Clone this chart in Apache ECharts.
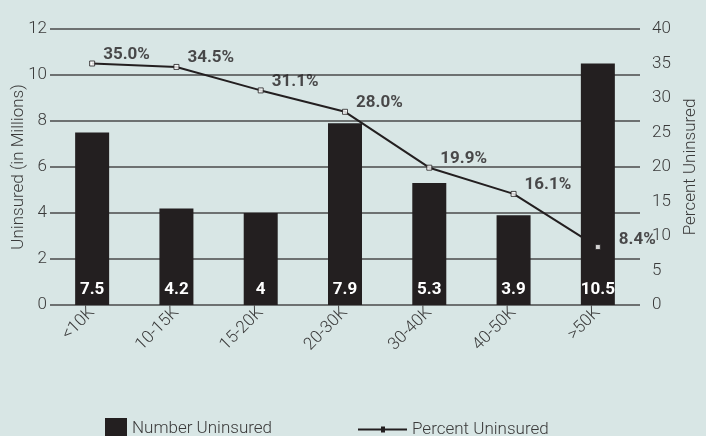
<!DOCTYPE html>
<html><head><meta charset="utf-8">
<script src="https://cdn.jsdelivr.net/npm/echarts@6/dist/echarts.min.js"></script>
<style>html,body{margin:0;padding:0;background:#d8e6e5}#c{width:706px;height:436px}</style>
</head><body><div id="c"></div>
<script>
const categories = ['<10K','10-15K','15-20K','20-30K','30-40K','40-50K','>50K'];
const numberUninsured = [7.5, 4.2, 4, 7.9, 5.3, 3.9, 10.5];
const percentUninsured = [35.0, 34.5, 31.1, 28.0, 19.9, 16.1, 8.4];
const leftTicks = [0, 12, 2];
const rightTicks = [0, 40, 5];

const chart = echarts.init(document.getElementById('c'));
const txt = '#3a3a3a';
const lightFont = {fontFamily: 'Roboto', fontWeight: 300, color: txt};
const boldFont = 'Roboto';
const dark = '#231f20';
const markerData = percentUninsured.map((v, i) => i === percentUninsured.length - 1
  ? {value: v, label: {offset: [10, -7]}} : v);
chart.setOption({
  backgroundColor: '#d8e6e5',
  animation: false,
  grid: {left: 50, right: 66, top: 29, bottom: 131, outerBoundsMode: 'none', containLabel: false},
  legend: [
    {data: [{name: 'Number Uninsured', icon: 'rect'}], left: 100, top: 413, itemWidth: 22, itemHeight: 22, itemGap: 8,
     textStyle: Object.assign({fontSize: 17}, lightFont)},
    {data: [{name: 'Percent Uninsured', icon: 'path://M0,4L49,4L49,6L0,6Z M23,2L27,2L27,8L23,8Z'}],
     left: 353, top: 416, itemWidth: 49, itemHeight: 6, itemGap: 10,
     itemStyle: {color: dark},
     textStyle: Object.assign({fontSize: 17, padding: [0, 0, 10, 0]}, lightFont)}
  ],
  xAxis: {
    type: 'category', data: categories,
    axisLine: {show: false}, axisTick: {show: false},
    axisLabel: Object.assign({rotate: 45, fontSize: 17, margin: 5, padding: [14, 0, 0, 0]}, lightFont)
  },
  yAxis: [
    {type: 'value', min: leftTicks[0], max: leftTicks[1], interval: leftTicks[2],
     name: 'Uninsured (in Millions)', nameLocation: 'middle', nameGap: 23, nameRotate: 90,
     nameMoveOverlap: false,
     nameTextStyle: Object.assign({fontSize: 17}, lightFont),
     axisLine: {show: false}, axisTick: {show: false},
     axisLabel: Object.assign({fontSize: 17, margin: 3}, lightFont),
     splitLine: {lineStyle: {color: '#4a4a4a', width: 1.5}}},
    {type: 'value', min: rightTicks[0], max: rightTicks[1], interval: rightTicks[2],
     name: 'Percent Uninsured', nameLocation: 'middle', nameGap: 42, nameRotate: 90,
     nameMoveOverlap: false,
     nameTextStyle: Object.assign({fontSize: 17}, lightFont),
     axisLine: {show: false}, axisTick: {show: false}, splitLine: {show: false},
     axisLabel: Object.assign({fontSize: 17, margin: 12, align: 'left'}, lightFont)}
  ],
  series: [
    {name: 'Percent Uninsured', type: 'line', yAxisIndex: 1, data: percentUninsured, z: 1,
     showSymbol: false, itemStyle: {color: dark},
     lineStyle: {color: dark, width: 2}},
    {name: 'Number Uninsured', type: 'bar', data: numberUninsured, barWidth: 34, z: 3,
     itemStyle: {color: dark},
     label: {show: true, position: 'insideBottom', distance: 7, color: '#fff',
       fontFamily: boldFont, fontWeight: 'bold', fontSize: 17}},
    {name: 'pct markers', type: 'scatter', yAxisIndex: 1, data: markerData, z: 4,
     symbol: 'rect', symbolSize: 5,
     itemStyle: {color: '#fff', borderColor: dark, borderWidth: 1},
     label: {show: true, position: 'right', distance: 8, offset: [0, -9], color: dark,
       fontFamily: boldFont, fontWeight: 'bold', fontSize: 17,
       formatter: p => p.value.toFixed(1) + '%'}}
  ]
});
</script></body></html>
